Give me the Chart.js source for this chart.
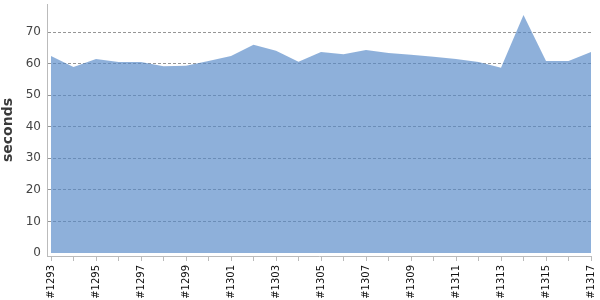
<!DOCTYPE html>
<html>
<head>
<meta charset="utf-8">
<script src="https://cdn.jsdelivr.net/npm/chart.js@4/dist/chart.umd.min.js"></script>
<style>
html,body{margin:0;padding:0;background:#fff;}
#wrap{width:600px;height:300px;}
</style>
</head>
<body>
<div id="wrap"><canvas id="c" width="600" height="300"></canvas></div>
<script>
const builds = ["#1293","#1294","#1295","#1296","#1297","#1298","#1299","#1300","#1301","#1302","#1303","#1304","#1305","#1306","#1307","#1308","#1309","#1310","#1311","#1312","#1313","#1314","#1315","#1316","#1317"];
const seconds = [62.4,58.9,61.5,60.5,60.5,59.2,59.3,60.8,62.4,66.0,64.1,60.6,63.7,63.0,64.3,63.4,62.8,62.2,61.5,60.5,58.7,75.4,60.8,60.8,63.7];
const yTicks = [0,10,20,30,40,50,60,70];
const yTitle = "seconds";

const pts = seconds.map((v,i)=>({x:i,y:v}));

function noPad(s){ s.paddingTop = 0; s.paddingBottom = 0; s.paddingLeft = 0; s.paddingRight = 0; }

new Chart(document.getElementById('c'), {
  type: 'line',
  data: {
    datasets: [{
      data: pts,
      fill: 'origin',
      backgroundColor: 'rgba(87,137,200,0.67)',
      borderColor: 'rgba(0,0,0,0)',
      borderWidth: 0,
      pointRadius: 0,
      tension: 0
    }]
  },
  options: {
    responsive: false,
    animation: false,
    layout: { padding: { top: 4, right: 9, left: 0, bottom: 0 } },
    plugins: { legend: { display: false }, tooltip: { enabled: false } },
    scales: {
      x: {
        type: 'linear',
        min: -0.178,
        max: builds.length - 1,
        afterBuildTicks: s => { s.ticks = builds.map((b,i)=>({value:i})); },
        afterFit: s => { s.height = 44; noPad(s); },
        ticks: {
          autoSkip: false,
          minRotation: 90,
          maxRotation: 90,
          padding: 4,
          color: '#111',
          font: { family: 'DejaVu Sans', size: 10 },
          callback: (v) => (Number.isInteger(v) && v % 2 === 0) ? builds[v] : ''
        },
        grid: {
          drawOnChartArea: false,
          drawTicks: true,
          tickLength: 5,
          color: '#bbb'
        },
        border: { color: '#bbb', width: 1 }
      },
      y: {
        min: -0.95,
        max: 78.9,
        afterBuildTicks: s => { s.ticks = yTicks.map(v=>({value:v})); },
        afterFit: s => { s.width = 47; noPad(s); },
        ticks: {
          padding: 6,
          color: '#444',
          font: { family: 'DejaVu Sans', size: 12 }
        },
        grid: {
          drawTicks: false,
          color: ctx => (ctx.tick && ctx.tick.value === 0) ? 'rgba(0,0,0,0)' : '#969696',
          lineWidth: 1
        },
        border: { color: '#bbb', width: 1, dash: [3,2] },
        title: {
          display: true,
          text: yTitle,
          color: '#3a3a3a',
          font: { family: 'DejaVu Sans', size: 14, weight: 'bold' },
          padding: { top: 0, bottom: 4 }
        }
      }
    }
  }
});
</script>
</body>
</html>
